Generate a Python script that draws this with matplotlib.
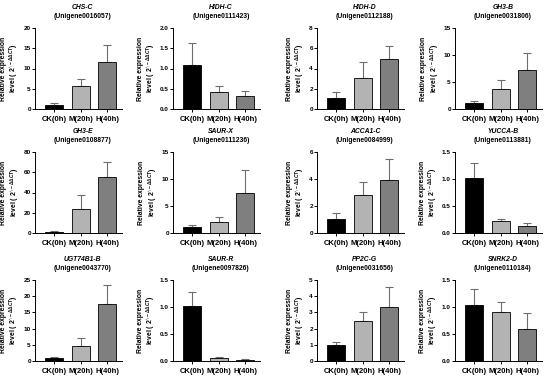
import matplotlib.pyplot as plt
import numpy as np

plt.rcParams['font.family'] = ['Liberation Sans', 'DejaVu Sans']
plt.rcParams['font.weight'] = 'bold'
plt.rcParams['mathtext.fontset'] = 'custom'
plt.rcParams['mathtext.rm'] = 'Liberation Sans:bold'
plt.rcParams['mathtext.it'] = 'Liberation Sans:bold:italic'
plt.rcParams['mathtext.bf'] = 'Liberation Sans:bold'

groups = ['CK(0h)', 'M(20h)', 'H(40h)']
genes = ['CHS-C', 'HIDH-C', 'HIDH-D', 'GH3-B',
         'GH3-E', 'SAUR-X', 'ACCA1-C', 'YUCCA-B',
         'UGT74B1-B', 'SAUR-R', 'PP2C-G', 'SNRK2-D']
unigenes = ['Unigene0016057', 'Unigene0111423', 'Unigene0112188', 'Unigene0031806',
            'Unigene0108877', 'Unigene0111236', 'Unigene0084999', 'Unigene0113881',
            'Unigene0043770', 'Unigene0097826', 'Unigene0031656', 'Unigene0110184']
means = [[1.0, 5.7, 11.7], [1.08, 0.41, 0.32], [1.05, 3.05, 4.9], [1.05, 3.7, 7.2],
         [1.0, 23.5, 55.5], [1.05, 2.0, 7.5], [1.05, 2.85, 3.9], [1.02, 0.22, 0.13],
         [0.9, 4.7, 17.5], [1.02, 0.05, 0.02], [1.0, 2.45, 3.35], [1.03, 0.91, 0.6]]
errs = [[0.6, 1.7, 4.2], [0.55, 0.16, 0.12], [0.6, 1.55, 1.3], [0.5, 1.6, 3.1],
        [0.5, 14.0, 15.0], [0.4, 1.0, 4.1], [0.45, 0.95, 1.6], [0.27, 0.04, 0.06],
        [0.2, 2.4, 6.0], [0.26, 0.02, 0.015], [0.17, 0.6, 1.2], [0.3, 0.18, 0.28]]
ymax = [20, 2.0, 8, 15, 80, 15, 6, 1.5, 25, 1.5, 5, 1.5]
ystep = [5, 0.5, 2, 5, 20, 5, 2, 0.5, 5, 0.5, 1, 0.5]

colors = ['#000000', '#b3b3b3', '#7f7f7f']

fig = plt.figure(figsize=(5.5, 3.8), dpi=100)
lefts = [35, 173, 317, 455]
bottoms = [109, 233, 361]
W, H = 550, 380

for i in range(12):
    r, c = divmod(i, 4)
    ax = fig.add_axes([lefts[c] / W, 1 - bottoms[r] / H, 87 / W, 81 / H])
    x = np.arange(3)
    ax.bar(x, means[i], width=0.68, color=colors, edgecolor='black', linewidth=0.6, zorder=2)
    ax.errorbar(x, means[i], yerr=[[0, 0, 0], errs[i]], fmt='none', ecolor='#6e6e6e',
                elinewidth=0.8, capsize=3, capthick=0.8, zorder=1)
    ax.set_xlim(-0.72, 2.55)
    ax.set_ylim(0, ymax[i])
    ticks = np.arange(0, ymax[i] + ystep[i] / 2, ystep[i])
    ax.set_yticks(ticks)
    if ystep[i] < 1:
        ax.set_yticklabels(['%.1f' % t for t in ticks])
    else:
        ax.set_yticklabels(['%d' % t for t in ticks])
    ax.set_xticks(x)
    ax.set_xticklabels(groups)
    ax.tick_params(axis='y', labelsize=4.6, length=2, width=0.7, pad=1)
    ax.tick_params(axis='x', labelsize=5.5, length=2, width=0.7, pad=3)
    for s in ['top', 'right']:
        ax.spines[s].set_visible(False)
    for s in ['left', 'bottom']:
        ax.spines[s].set_linewidth(0.7)
    ax.set_ylabel('Relative expression\nlevel ( 2$^{\\wedge-\\Delta\\Delta CT}$)',
                  fontsize=4.9, fontweight='bold', labelpad=1.5, linespacing=1.1)
    ax.text(0.55, 1.25, genes[i], transform=ax.transAxes, ha='center', va='center',
            fontsize=4.9, fontweight='bold', style='italic')
    ax.text(0.55, 1.14, '(' + unigenes[i] + ')', transform=ax.transAxes, ha='center',
            va='center', fontsize=4.9, fontweight='bold')

fig.savefig('out.png', dpi=100)
